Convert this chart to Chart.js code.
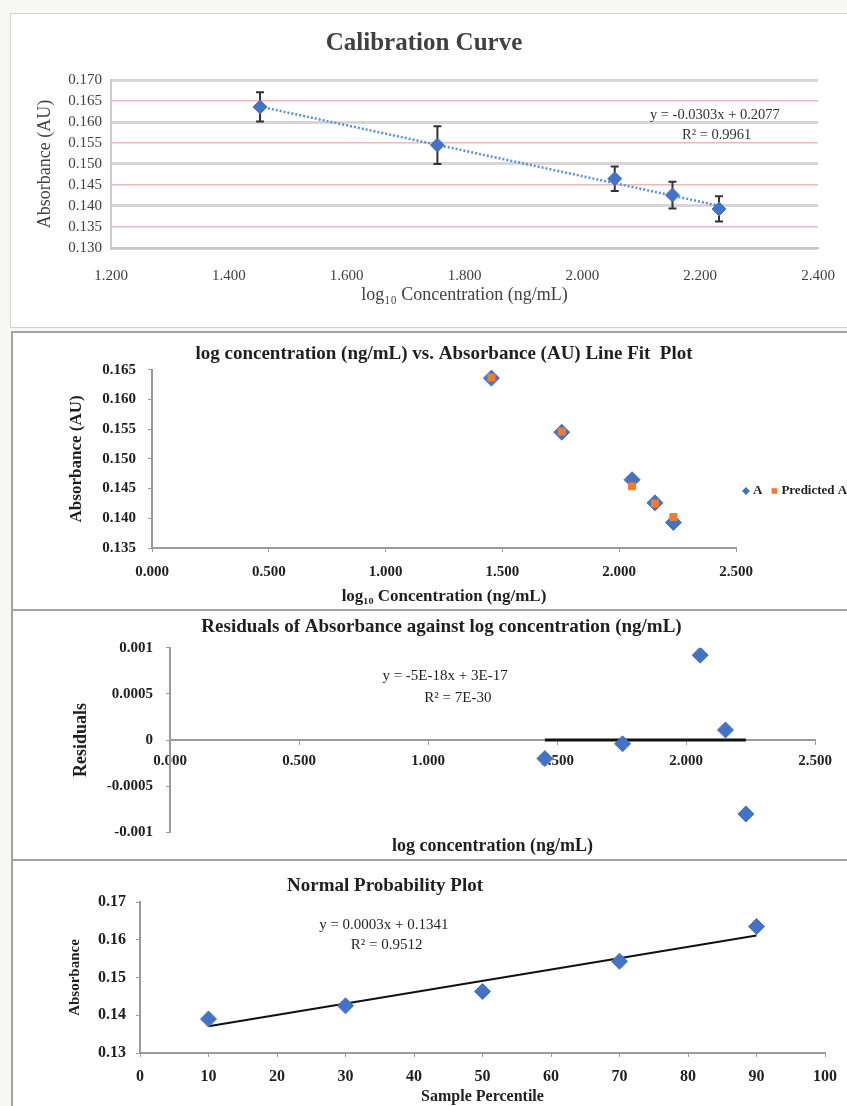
<!DOCTYPE html>
<html>
<head>
<meta charset="utf-8">
<script src="https://cdn.jsdelivr.net/npm/chart.js@4.4.0/dist/chart.umd.min.js"></script>
<style>
  body { margin: 0; width: 847px; height: 1106px; overflow: hidden; background: #f7f7f5; position: relative; }
  .frame { position: absolute; box-sizing: border-box; background: #fff; }
  .box { position: absolute; }
</style>
</head>
<body>
<div class="frame" style="left:10px;top:13px;width:850px;height:315px;border:1px solid #d2d2d2"></div>
<div class="frame" style="left:11px;top:331px;width:850px;height:280px;border:2px solid #a3a3a3"></div>
<div class="frame" style="left:11px;top:609px;width:850px;height:252px;border:2px solid #a3a3a3"></div>
<div class="frame" style="left:11px;top:859px;width:850px;height:270px;border:2px solid #a3a3a3"></div>

<div class="box" style="left:0;top:13px;width:870px;height:315px"><canvas id="calib"></canvas></div>
<div class="box" style="left:0;top:333px;width:900px;height:275px"><canvas id="linefit"></canvas></div>
<div class="box" style="left:0;top:612px;width:886px;height:245px"><canvas id="resid"></canvas></div>
<div class="box" style="left:0;top:862px;width:847px;height:244px"><canvas id="normal"></canvas></div>

<script>
// values
var logConc = [1.453, 1.754, 2.055, 2.153, 2.232];
var absorbance = [0.1636, 0.1545, 0.1465, 0.1426, 0.1393];
var absError = [0.0035, 0.0045, 0.0029, 0.0032, 0.0030];
var predicted = [0.1637, 0.1546, 0.1454, 0.1425, 0.1402];
var residuals = [-0.0002, -0.00004, 0.00092, 0.00011, -0.0008];
var percentile = [10, 30, 50, 70, 90];
var sortedAbs = [0.1390, 0.1425, 0.1463, 0.1543, 0.1635];

// trend lines as printed on the charts
var calibSlope = -0.0303, calibIntercept = 0.2077;
var residSlope = -5e-18, residIntercept = 3e-17;
var normSlope = 0.0003, normIntercept = 0.1341;

var SERIF = "'Liberation Serif', 'Times New Roman', serif";
Chart.defaults.font.family = SERIF;
Chart.defaults.animation = false;

var blue = '#4472C4';
var orange = '#ED7D31';

function pts(xs, ys) {
  return xs.map(function (x, i) { return { x: x, y: ys[i] }; });
}
function trend(x0, x1, m, b) {
  return [{ x: x0, y: m * x0 + b }, { x: x1, y: m * x1 + b }];
}
function fixWidth(w) { return function (s) { s.width = w; }; }
function fixHeight(h) { return function (s) { s.height = h; }; }

// text notes: data coords by default, canvas pixels when pixel:true
var notes = {
  id: 'notes',
  afterDraw: function (chart, args, opts) {
    var ctx = chart.ctx;
    (opts.items || []).forEach(function (n) {
      var x = n.pixel ? n.x : chart.scales.x.getPixelForValue(n.x);
      var y = n.pixel ? n.y : chart.scales.y.getPixelForValue(n.y);
      ctx.save();
      ctx.font = n.font;
      ctx.fillStyle = n.color || '#1f1f1f';
      ctx.textAlign = n.align || 'center';
      ctx.textBaseline = 'middle';
      ctx.fillText(n.text, x, y);
      ctx.restore();
    });
  }
};

var errorBars = {
  id: 'errorBars',
  beforeDatasetsDraw: function (chart, args, opts) {
    if (!opts.errors) return;
    var ctx = chart.ctx, xs = chart.scales.x, ys = chart.scales.y;
    ctx.save();
    ctx.strokeStyle = opts.color;
    ctx.lineWidth = 2;
    chart.data.datasets[0].data.forEach(function (p, i) {
      var x = xs.getPixelForValue(p.x);
      var top = ys.getPixelForValue(p.y + opts.errors[i]);
      var bot = ys.getPixelForValue(p.y - opts.errors[i]);
      ctx.beginPath();
      ctx.moveTo(x, top); ctx.lineTo(x, bot);
      ctx.moveTo(x - 4, top); ctx.lineTo(x + 4, top);
      ctx.moveTo(x - 4, bot); ctx.lineTo(x + 4, bot);
      ctx.stroke();
    });
    ctx.restore();
  }
};

var sideLegend = {
  id: 'sideLegend',
  afterDraw: function (chart, args, opts) {
    if (opts.x === undefined) return;
    var ctx = chart.ctx, x = opts.x, y = opts.y;
    ctx.save();
    ctx.font = 'bold 13px ' + SERIF;
    ctx.textBaseline = 'middle';
    chart.data.datasets.forEach(function (ds) {
      ctx.fillStyle = ds.backgroundColor;
      ctx.strokeStyle = ds.backgroundColor;
      Chart.helpers.drawPoint(ctx, { pointStyle: ds.pointStyle, radius: 4, borderWidth: 0 }, x, y);
      x += 7;
      ctx.fillStyle = '#1f1f1f';
      ctx.fillText(ds.label, x, y);
      x += ctx.measureText(ds.label).width + 12;
    });
    ctx.restore();
  }
};

// ---------- 1. Calibration Curve ----------
new Chart(document.getElementById('calib'), {
  type: 'scatter',
  data: {
    datasets: [
      { label: 'A', data: pts(logConc, absorbance), pointStyle: 'rectRot', pointRadius: 7,
        backgroundColor: blue, borderColor: blue },
      { label: 'Linear', data: trend(logConc[0], logConc[4], calibSlope, calibIntercept), showLine: true,
        borderColor: '#5B8FD8', borderWidth: 2.5, borderDash: [2, 2], pointRadius: 0 }
    ]
  },
  options: {
    responsive: true,
    maintainAspectRatio: false,
    layout: { padding: { left: 30, right: 52, top: 0, bottom: 0 } },
    plugins: {
      legend: { display: false },
      tooltip: { enabled: false },
      title: { display: true, text: 'Calibration Curve', color: '#404040',
        font: { size: 25, weight: 'bold' }, padding: { top: 16, bottom: 21 } },
      errorBars: { errors: absError, color: '#333' },
      notes: { items: [
        { text: 'y = -0.0303x + 0.2077', x: 2.225, y: 0.1617, font: '14.5px ' + SERIF, color: '#333' },
        { text: 'R\u00b2 = 0.9961', x: 2.228, y: 0.1569, font: '14.5px ' + SERIF, color: '#333' }
      ] }
    },
    scales: {
      x: {
        min: 1.2, max: 2.4, afterFit: fixHeight(80),
        ticks: { stepSize: 0.2, padding: 11, color: '#404040', font: { size: 15 },
          callback: function (v) { return v.toFixed(3); } },
        grid: { display: false },
        border: { color: '#c8c8c8', width: 2 },
        title: { display: true, text: 'log\u2081\u2080 Concentration (ng/mL)', color: '#404040',
          font: { size: 18 }, padding: { top: 0, bottom: 22 } }
      },
      y: {
        min: 0.13, max: 0.17, afterFit: fixWidth(81),
        ticks: { stepSize: 0.005, padding: 9, color: '#404040', font: { size: 15 },
          callback: function (v) { return v.toFixed(3); } },
        grid: {
          drawTicks: false,
          color: function (c) {
            return Math.round(c.tick.value * 1000) % 10 === 0 ? '#d6d6d6' : '#eab9b9';
          },
          lineWidth: function (c) {
            return Math.round(c.tick.value * 1000) % 10 === 0 ? 3 : 1.5;
          }
        },
        border: { color: '#c8c8c8', width: 2 },
        title: { display: true, text: 'Absorbance (AU)', color: '#404040',
          font: { size: 18 }, padding: { top: 4, bottom: 0 } }
      }
    }
  },
  plugins: [errorBars, notes]
});

// ---------- 2. Line Fit Plot ----------
var boldTick = { size: 15, weight: 'bold' };
new Chart(document.getElementById('linefit'), {
  type: 'scatter',
  data: {
    datasets: [
      { label: 'A', data: pts(logConc, absorbance), pointStyle: 'rectRot', pointRadius: 8,
        backgroundColor: blue, borderColor: blue, order: 1 },
      { label: 'Predicted A', data: pts(logConc, predicted), pointStyle: 'rect', pointRadius: 5,
        backgroundColor: orange, borderColor: orange, order: 0 }
    ]
  },
  options: {
    responsive: true,
    maintainAspectRatio: false,
    layout: { padding: { left: 62, right: 164, top: 0, bottom: 0 } },
    plugins: {
      legend: { display: false },
      tooltip: { enabled: false },
      title: { display: true, fullSize: false,
        text: 'log concentration (ng/mL) vs. Absorbance (AU) Line Fit  Plot',
        color: '#1f1f1f', font: { size: 19, weight: 'bold' }, padding: { top: 10, bottom: 4 } },
      sideLegend: { x: 746, y: 158 }
    },
    scales: {
      x: {
        min: 0, max: 2.5, afterFit: fixHeight(60),
        ticks: { stepSize: 0.5, padding: 11, color: '#1f1f1f', font: boldTick,
          callback: function (v) { return v.toFixed(3); } },
        grid: { drawOnChartArea: false, tickLength: 4, color: '#9a9a9a' },
        border: { color: '#9a9a9a', width: 2 },
        title: { display: true, text: 'log\u2081\u2080 Concentration (ng/mL)', color: '#1f1f1f',
          font: { size: 17, weight: 'bold' }, padding: { top: 0, bottom: 1 } }
      },
      y: {
        min: 0.135, max: 0.165, afterFit: fixWidth(90),
        ticks: { stepSize: 0.005, padding: 12, color: '#1f1f1f', font: boldTick,
          callback: function (v) { return v.toFixed(3); } },
        grid: { drawOnChartArea: false, tickLength: 4, color: '#9a9a9a' },
        border: { color: '#9a9a9a', width: 2 },
        title: { display: true, text: 'Absorbance (AU)', color: '#1f1f1f',
          font: { size: 17, weight: 'bold' }, padding: { top: 4, bottom: 0 } }
      }
    }
  },
  plugins: [sideLegend]
});

// ---------- 3. Residuals ----------
new Chart(document.getElementById('resid'), {
  type: 'scatter',
  data: {
    datasets: [
      { label: 'Residuals', data: pts(logConc, residuals), pointStyle: 'rectRot', pointRadius: 8,
        backgroundColor: blue, borderColor: blue },
      { label: 'Linear', data: trend(logConc[0], logConc[4], residSlope, residIntercept), showLine: true,
        borderColor: '#111', borderWidth: 3, pointRadius: 0 }
    ]
  },
  options: {
    responsive: true,
    maintainAspectRatio: false,
    layout: { padding: { left: 68, right: 71, top: 0, bottom: 0 } },
    plugins: {
      legend: { display: false },
      tooltip: { enabled: false },
      title: { display: true, text: 'Residuals of Absorbance against log concentration (ng/mL)',
        color: '#1f1f1f', font: { size: 19, weight: 'bold' }, padding: { top: 4, bottom: 9 } },
      subtitle: { display: true, position: 'bottom', fullSize: false, text: 'log concentration (ng/mL)',
        color: '#1f1f1f', font: { size: 18, weight: 'bold' }, padding: { top: 3, bottom: 0 } },
      notes: { items: [
        { text: 'y = -5E-18x + 3E-17', x: 1.066, y: 0.00069, font: '15px ' + SERIF },
        { text: 'R\u00b2 = 7E-30', x: 1.116, y: 0.00046, font: '15px ' + SERIF }
      ] }
    },
    scales: {
      x: {
        position: { y: 0 },
        min: 0, max: 2.5,
        ticks: { stepSize: 0.5, padding: 8, color: '#1f1f1f', font: { size: 15, weight: 'bold' },
          callback: function (v) { return v.toFixed(3); } },
        grid: { drawOnChartArea: false, tickLength: 4, color: '#9a9a9a' },
        border: { color: '#9a9a9a', width: 2 }
      },
      y: {
        min: -0.001, max: 0.001, afterFit: fixWidth(102),
        ticks: { stepSize: 0.0005, padding: 13, color: '#1f1f1f', font: { size: 15, weight: 'bold' },
          callback: function (v) { return String(+v.toFixed(4)); } },
        grid: { drawOnChartArea: false, tickLength: 4, color: '#9a9a9a' },
        border: { color: '#9a9a9a', width: 2 },
        title: { display: true, text: 'Residuals', color: '#1f1f1f',
          font: { size: 18, weight: 'bold' }, padding: { top: 3, bottom: 0 } }
      }
    }
  },
  plugins: [notes]
});

// ---------- 4. Normal Probability Plot ----------
new Chart(document.getElementById('normal'), {
  type: 'scatter',
  data: {
    datasets: [
      { label: 'Absorbance', data: pts(percentile, sortedAbs), pointStyle: 'rectRot', pointRadius: 8,
        backgroundColor: blue, borderColor: blue },
      { label: 'Linear', data: trend(percentile[0], percentile[4], normSlope, normIntercept), showLine: true,
        borderColor: '#111', borderWidth: 2, pointRadius: 0 }
    ]
  },
  options: {
    responsive: true,
    maintainAspectRatio: false,
    layout: { padding: { left: 63, right: 19, top: 40, bottom: 0 } },
    plugins: {
      legend: { display: false },
      tooltip: { enabled: false },
      notes: { items: [
        { text: 'Normal Probability Plot', x: 385, y: 24, pixel: true, font: 'bold 19px ' + SERIF },
        { text: 'y = 0.0003x + 0.1341', x: 35.6, y: 0.1639, font: '15px ' + SERIF },
        { text: 'R\u00b2 = 0.9512', x: 36, y: 0.1586, font: '15px ' + SERIF }
      ] }
    },
    scales: {
      x: {
        min: 0, max: 100, afterFit: fixHeight(53),
        ticks: { stepSize: 10, padding: 10, color: '#1f1f1f', font: { size: 16, weight: 'bold' } },
        grid: { drawOnChartArea: false, tickLength: 4, color: '#9a9a9a' },
        border: { color: '#9a9a9a', width: 2 },
        title: { display: true, text: 'Sample Percentile', color: '#1f1f1f',
          font: { size: 16, weight: 'bold' }, padding: { top: 0, bottom: 0 } }
      },
      y: {
        min: 0.13, max: 0.17, afterFit: fixWidth(77),
        ticks: { stepSize: 0.01, padding: 10, color: '#1f1f1f', font: { size: 16, weight: 'bold' },
          callback: function (v) { return v.toFixed(2); } },
        grid: { drawOnChartArea: false, tickLength: 4, color: '#9a9a9a' },
        border: { color: '#9a9a9a', width: 2 },
        title: { display: true, text: 'Absorbance', color: '#1f1f1f',
          font: { size: 15, weight: 'bold' }, padding: { top: 3, bottom: 0 } }
      }
    }
  },
  plugins: [notes]
});
</script>
</body>
</html>
